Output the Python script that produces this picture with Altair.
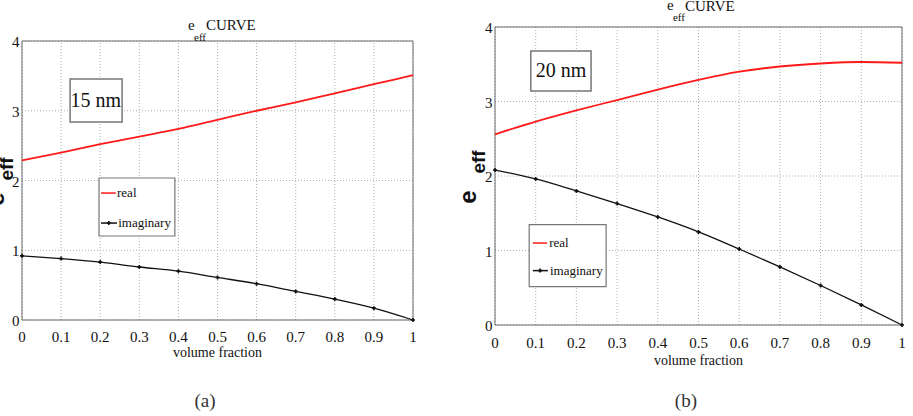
import altair as alt
import pandas as pd

# volume fraction samples shared by both panels
vf = [0.0, 0.1, 0.2, 0.3, 0.4, 0.5, 0.6, 0.7, 0.8, 0.9, 1.0]

# effective permittivity, 15 nm particles
real_15nm = [2.29, 2.40, 2.52, 2.63, 2.74, 2.87, 3.00, 3.12, 3.25, 3.38, 3.51]
imag_15nm = [0.92, 0.88, 0.83, 0.76, 0.70, 0.61, 0.52, 0.41, 0.30, 0.17, 0.00]

# effective permittivity, 20 nm particles
real_20nm = [2.56, 2.73, 2.88, 3.02, 3.16, 3.29, 3.40, 3.47, 3.51, 3.53, 3.52]
imag_20nm = [2.08, 1.96, 1.80, 1.63, 1.45, 1.25, 1.02, 0.78, 0.53, 0.27, 0.00]

x_ticks = vf
y_ticks = [0, 1, 2, 3, 4]
x_tick_labels = [f"{v:g}" for v in x_ticks]
y_tick_labels = [f"{v:g}" for v in y_ticks]

W, H = 913, 416
SERIF = "Liberation Serif"
SANS = "Liberation Sans"


def text_layer(rows, xs, ys, **mark):
    df = pd.DataFrame(rows, columns=["x", "y", "t"])
    return alt.Chart(df).mark_text(**mark).encode(
        x=alt.X("x:Q", scale=xs, axis=None),
        y=alt.Y("y:Q", scale=ys, axis=None),
        text="t:N",
    )


def panel(real, imag, size_label, caption, x_range, y_range, ann):
    xs = alt.Scale(domain=[0, 1], range=x_range, nice=False, zero=False)
    ys = alt.Scale(domain=[0, 4], range=y_range, nice=False, zero=False)

    curves = pd.DataFrame({"vf": vf, "real": real, "imag": imag})

    # dotted grid
    vgrid = alt.Chart(pd.DataFrame({"g": x_ticks})).mark_rule(
        color="#9a9a9a", strokeWidth=0.8, strokeDash=[1, 2]
    ).encode(
        x=alt.X("g:Q", scale=xs, axis=None),
        y=alt.YDatum(0, scale=ys, axis=None),
        y2=alt.Y2Datum(4),
    )
    hgrid = alt.Chart(pd.DataFrame({"g": y_ticks})).mark_rule(
        color="#9a9a9a", strokeWidth=0.8, strokeDash=[1, 2]
    ).encode(
        y=alt.Y("g:Q", scale=ys, axis=None),
        x=alt.XDatum(0, scale=xs, axis=None),
        x2=alt.X2Datum(1),
    )

    # box around the axes
    frame_df = pd.DataFrame({
        "x": [0, 0, 0, 1], "x2": [1, 1, 0, 1],
        "y": [0, 4, 0, 0], "y2": [0, 4, 4, 4],
    })
    frame = alt.Chart(frame_df).mark_rule(color="#6a6a6a", strokeWidth=1).encode(
        x=alt.X("x:Q", scale=xs, axis=None), x2="x2:Q",
        y=alt.Y("y:Q", scale=ys, axis=None), y2="y2:Q",
    )

    # tick labels and axis title
    xlab = text_layer(
        [[v, ann["xlab_y"], t] for v, t in zip(x_ticks, x_tick_labels)], xs, ys,
        font=SERIF, fontSize=15, color="#111", align="center", baseline="middle")
    ylab = text_layer(
        [[ann["ylab_x"], v, t] for v, t in zip(y_ticks, y_tick_labels)], xs, ys,
        font=SERIF, fontSize=15, color="#111", align="right", baseline="middle", dy=1)
    xtitle = text_layer([[0.5, ann["xtitle_y"], "volume fraction"]], xs, ys,
                        font=SERIF, fontSize=14, color="#111",
                        align="center", baseline="middle")

    real_line = alt.Chart(curves).mark_line(
        color="#ff1a1a", strokeWidth=1.8, interpolate="monotone"
    ).encode(
        x=alt.X("vf:Q", scale=xs, axis=None),
        y=alt.Y("real:Q", scale=ys, axis=None),
    )
    imag_line = alt.Chart(curves).mark_line(
        color="#111", strokeWidth=1.3, interpolate="monotone"
    ).encode(
        x=alt.X("vf:Q", scale=xs, axis=None),
        y=alt.Y("imag:Q", scale=ys, axis=None),
    )
    imag_pts = alt.Chart(curves).mark_point(
        shape="cross", filled=True, color="#111", size=16, opacity=1
    ).encode(
        x=alt.X("vf:Q", scale=xs, axis=None),
        y=alt.Y("imag:Q", scale=ys, axis=None),
    )

    # particle size tag
    bx = ann["size_box"]
    size_box = alt.Chart(pd.DataFrame([bx], columns=["x", "x2", "y", "y2"])).mark_rect(
        fill="white", stroke="#777", strokeWidth=1.5
    ).encode(
        x=alt.X("x:Q", scale=xs, axis=None), x2="x2:Q",
        y=alt.Y("y:Q", scale=ys, axis=None), y2="y2:Q",
    )
    size_txt = text_layer([ann["size_text"] + [size_label]], xs, ys,
                          font=SERIF, fontSize=20, color="#111",
                          align="center", baseline="middle")

    # legend
    lb = ann["leg_box"]
    leg_box = alt.Chart(pd.DataFrame([lb], columns=["x", "x2", "y", "y2"])).mark_rect(
        fill="white", stroke="#777", strokeWidth=1.2
    ).encode(
        x=alt.X("x:Q", scale=xs, axis=None), x2="x2:Q",
        y=alt.Y("y:Q", scale=ys, axis=None), y2="y2:Q",
    )
    leg_df = pd.DataFrame(ann["leg_lines"], columns=["x", "x2", "y", "c"])
    leg_lines = alt.Chart(leg_df).mark_rule(strokeWidth=1.5).encode(
        x=alt.X("x:Q", scale=xs, axis=None), x2="x2:Q",
        y=alt.Y("y:Q", scale=ys, axis=None),
        color=alt.Color("c:N", scale=None, legend=None),
    )
    leg_mark = alt.Chart(pd.DataFrame([ann["leg_mark"]], columns=["x", "y"])).mark_point(
        shape="cross", filled=True, color="#111", size=16, opacity=1
    ).encode(
        x=alt.X("x:Q", scale=xs, axis=None),
        y=alt.Y("y:Q", scale=ys, axis=None),
    )
    leg_txt = text_layer(ann["leg_text"], xs, ys, font=SERIF, fontSize=13,
                         color="#111", align="left", baseline="middle")

    # title  e_eff CURVE
    t_big = text_layer(ann["title_big"], xs, ys, font=SERIF, fontSize=15,
                       color="#111", align="left", baseline="alphabetic")
    t_sub = text_layer(ann["title_sub"], xs, ys, font=SERIF, fontSize=11,
                       color="#111", align="left", baseline="alphabetic")

    # vertical axis label  e_eff
    y_e = text_layer([ann["ylab_e"] + ["e"]], xs, ys, font=SANS, fontSize=24,
                     fontWeight="bold", color="#111", angle=270,
                     align="center", baseline="middle")
    y_eff = text_layer([ann["ylab_eff"] + ["eff"]], xs, ys, font=SANS, fontSize=19,
                       fontWeight="bold", color="#111", angle=270,
                       align="center", baseline="middle")

    cap = text_layer([ann["caption"] + [caption]], xs, ys, font=SERIF, fontSize=19,
                     color="#333", align="center", baseline="middle")

    return alt.layer(
        vgrid, hgrid, frame, xlab, ylab, xtitle,
        real_line, imag_line, imag_pts,
        size_box, size_txt, leg_box, leg_lines, leg_mark, leg_txt,
        t_big, t_sub, y_e, y_eff, cap,
    )


ann_a = {
    "xlab_y": -0.244,
    "ylab_x": -0.0064,
    "xtitle_y": -0.473,
    "size_box": [0.123, 0.256, 2.84, 3.455],
    "size_text": [0.189, 3.14],
    "leg_box": [0.197, 0.391, 1.204, 2.036],
    "leg_lines": [[0.202, 0.240, 1.82, "#ff1a1a"], [0.202, 0.243, 1.39, "#111111"]],
    "leg_mark": [0.222, 1.39],
    "leg_text": [[0.243, 1.82, "real"], [0.246, 1.39, "imaginary"]],
    "title_big": [[0.4246, 4.158, "e"], [0.4706, 4.151, "CURVE"]],
    "title_sub": [[0.4399, 3.993, "eff"]],
    "ylab_e": [-0.0639, 1.735],
    "ylab_eff": [-0.0384, 2.165],
    "caption": [0.468, -1.161],
}

ann_b = {
    "xlab_y": -0.242,
    "ylab_x": -0.0061,
    "xtitle_y": -0.483,
    "size_box": [0.088, 0.236, 3.141, 3.678],
    "size_text": [0.162, 3.41],
    "leg_box": [0.084, 0.273, 0.514, 1.346],
    "leg_lines": [[0.093, 0.128, 1.10, "#ff1a1a"], [0.093, 0.130, 0.73, "#111111"]],
    "leg_mark": [0.111, 0.73],
    "leg_text": [[0.133, 1.10, "real"], [0.135, 0.73, "imaginary"]],
    "title_big": [[0.4226, 4.228, "e"], [0.4668, 4.221, "CURVE"]],
    "title_sub": [[0.4373, 4.081, "eff"]],
    "ylab_e": [-0.0639, 1.718],
    "ylab_eff": [-0.0393, 2.188],
    "caption": [0.469, -1.020],
}

left = panel(real_15nm, imag_15nm, "15 nm", "(a)", [22, 413], [320, 41], ann_a)
right = panel(real_20nm, imag_20nm, "20 nm", "(b)", [495, 902], [325, 27], ann_b)

chart = alt.layer(left, right).resolve_scale(
    x="independent", y="independent"
).properties(
    width=W, height=H, padding=0,
    autosize=alt.AutoSizeParams(type="none"),
    background="white",
).configure_view(stroke=None)

chart.save("out.html", embed_options={"renderer": "svg", "actions": False})
